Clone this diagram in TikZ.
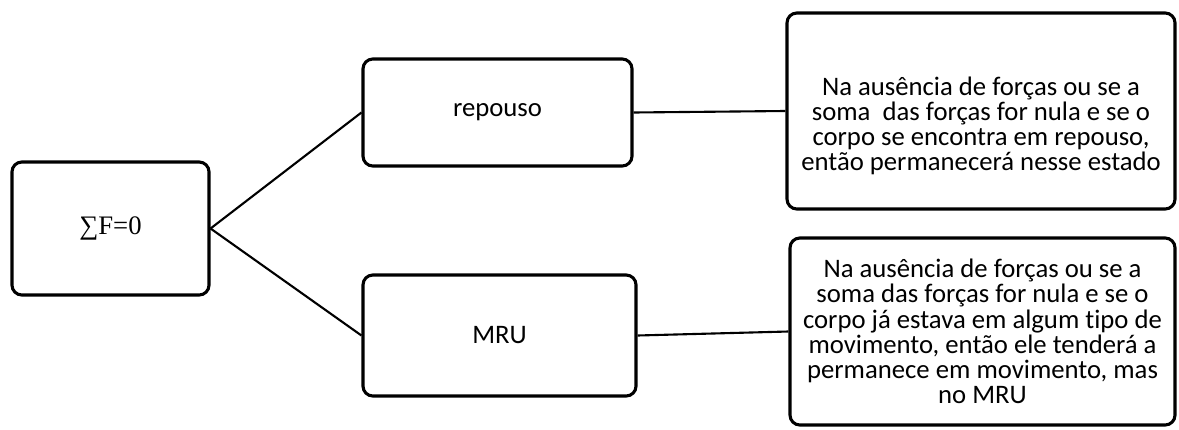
\documentclass[tikz,border=0pt]{standalone}
\usepackage{fontspec}
\setmainfont{Carlito}[Ligatures={NoCommon}]
\newfontfamily\sumfont{Liberation Serif}
\setlength{\lineskiplimit}{-20pt}

\begin{document}
\begin{tikzpicture}
		[every node/.style={rectangle, rounded corners=7pt,
		draw=black, line width=2.2pt, align=center,
		font=\fontsize{19}{17.9}\selectfont}]
		\useasboundingbox (0,0) rectangle (29.475,10.725);

		\node [minimum width=4.925cm, minimum height=3.325cm,
			font=\sumfont\fontsize{19}{22}\selectfont]
			(soma) at (2.7625,5.0125) {∑F=0};

		\node [minimum width=6.725cm, minimum height=2.675cm]
			(repouso) at (12.4375,7.9125) {repouso};
		\node [minimum width=6.825cm, minimum height=3.025cm]
			(mru) at (12.4875,2.3375) {MRU};

		%%textos
		\node [minimum width=9.7cm, minimum height=4.9cm]
			(txtrep) at (24.525,7.95)
			{\rule{0pt}{34pt}Na ausência de forças ou se a\\
			soma\ \ das forças for nula e se o\\
			corpo se encontra em repouso,\\
			então permanecerá nesse estado};
		\node [minimum width=9.625cm, minimum height=4.675cm]
			(txtmru) at (24.5625,2.4375)
			{Na ausência de forças ou se a\\
			soma das forças for nula e se o\\
			corpo já estava em algum tipo de\\
			movimento, então ele tenderá a\\
			permanece em movimento, mas\\
			no MRU};

		\foreach \from/\to in {soma/repouso,soma/mru,
		repouso/txtrep,mru/txtmru}
		\draw[line width=1.5pt] (\from.east) -- (\to.west);
\end{tikzpicture}
\end{document}
